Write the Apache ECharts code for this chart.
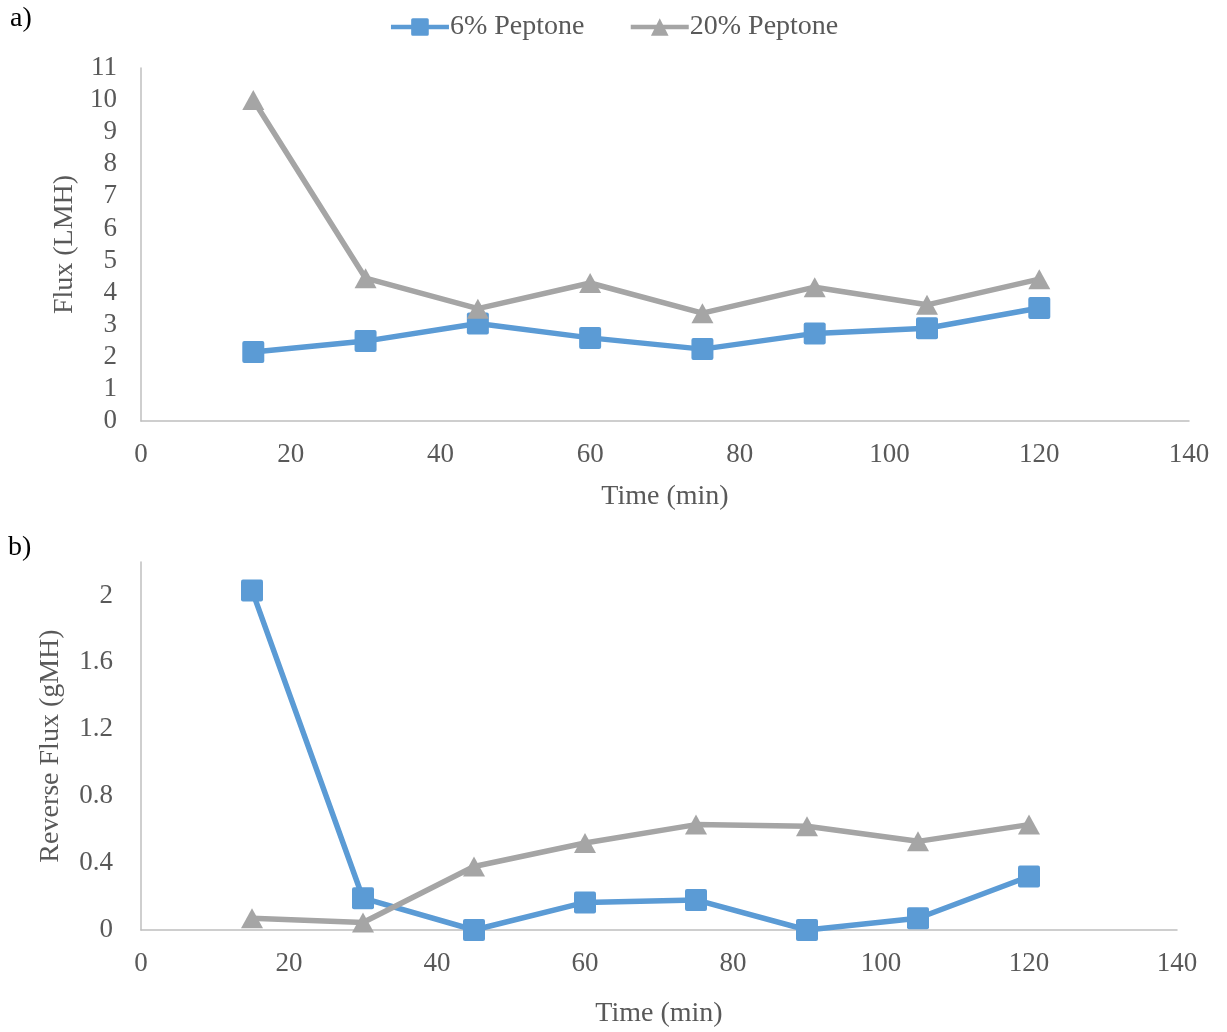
<!DOCTYPE html>
<html>
<head>
<meta charset="utf-8">
<script src="https://cdn.jsdelivr.net/npm/echarts@6/dist/echarts.min.js"></script>
<style>html,body{margin:0;padding:0;background:#fff}#c{width:1227px;height:1032px}</style>
</head>
<body>
<div id="c"></div>
<script>
const times = [15, 30, 45, 60, 75, 90, 105, 120];
const flux6 = [2.15, 2.49, 3.04, 2.59, 2.24, 2.73, 2.89, 3.52];
const flux20 = [10.0, 4.45, 3.5, 4.3, 3.36, 4.17, 3.62, 4.42];
const rev6 = [2.03, 0.19, 0.0, 0.165, 0.18, 0.0, 0.07, 0.32];
const rev20 = [0.07, 0.045, 0.38, 0.52, 0.63, 0.62, 0.53, 0.63];
const seriesNames = ['6% Peptone', '20% Peptone'];
const panelLabels = ['a)', 'b)'];

const FONT = '"Liberation Serif", "DejaVu Serif", serif';
const TXT = '#595959';
const BLUE = '#5B9BD5';
const GRAY = '#A5A5A5';
const AXC = '#BFBFBF';
const SQUARE = 'path://M2,0H20A2,2 0 0 1 22,2V20A2,2 0 0 1 20,22H2A2,2 0 0 1 0,20V2A2,2 0 0 1 2,0Z';

function pts(xs, ys) { return xs.map((x, i) => [x, ys[i]]); }

function xAx(idx, gap) {
  return {
    type: 'value', gridIndex: idx, min: 0, max: 140, interval: 20,
    name: 'Time (min)', nameLocation: 'middle', nameGap: gap,
    nameTextStyle: { fontFamily: FONT, fontSize: 28, color: TXT },
    axisLine: { show: true, lineStyle: { color: AXC, width: 1.5 } },
    axisTick: { show: false }, splitLine: { show: false },
    axisLabel: { fontFamily: FONT, fontSize: 27, color: TXT, margin: 20 }
  };
}
function yAx(idx, name, max, interval, gap, extra) {
  return Object.assign({
    type: 'value', gridIndex: idx, min: 0, max: max, interval: interval,
    name: name, nameLocation: 'middle', nameGap: gap,
    nameTextStyle: { fontFamily: FONT, fontSize: 28, color: TXT },
    axisLine: { show: true, lineStyle: { color: AXC, width: 1.5 } },
    axisTick: { show: false }, splitLine: { show: false },
    axisLabel: { fontFamily: FONT, fontSize: 27, color: TXT, margin: 24 }
  }, extra || {});
}
function ser(name, data, idx, color, symbol, size) {
  return {
    name: name, type: 'line', xAxisIndex: idx, yAxisIndex: idx,
    data: data, symbol: symbol, symbolSize: size, showAllSymbol: true,
    lineStyle: { color: color, width: 5.5 },
    itemStyle: { color: color },
    emphasis: { disabled: true }, animation: false
  };
}

const chart = echarts.init(document.getElementById('c'));
chart.setOption({
  backgroundColor: '#fff',
  animation: false,
  legend: {
    top: 8, left: 'center', itemWidth: 58, itemHeight: 22, itemGap: 44,
    data: seriesNames,
    lineStyle: { width: 4.5 },
    textStyle: { fontFamily: FONT, fontSize: 28, color: TXT, padding: [0, 0, 0, -4] }
  },
  graphic: [
    { type: 'text', left: 10, top: 5, style: { text: panelLabels[0], font: '28px ' + FONT, fill: '#000' } },
    { type: 'text', left: 8, top: 534, style: { text: panelLabels[1], font: '28px ' + FONT, fill: '#000' } }
  ],
  grid: [
    { left: 141, right: 38, top: 68, bottom: 611 },
    { left: 141, right: 50, top: 562, bottom: 102 }
  ],
  xAxis: [xAx(0, 62), xAx(1, 70)],
  yAxis: [
    yAx(0, 'Flux (LMH)', 11, 1, 62),
    yAx(1, 'Reverse Flux (gMH)', 2.2, 0.4, 76, { axisLabel: { fontFamily: FONT, fontSize: 27, color: TXT, margin: 28, showMaxLabel: false } })
  ],
  series: [
    ser(seriesNames[0], pts(times, flux6), 0, BLUE, SQUARE, 22),
    ser(seriesNames[1], pts(times, flux20), 0, GRAY, 'triangle', [22, 20]),
    ser(seriesNames[0], pts(times, rev6), 1, BLUE, SQUARE, 22),
    ser(seriesNames[1], pts(times, rev20), 1, GRAY, 'triangle', [22, 20])
  ]
});
</script>
</body>
</html>
